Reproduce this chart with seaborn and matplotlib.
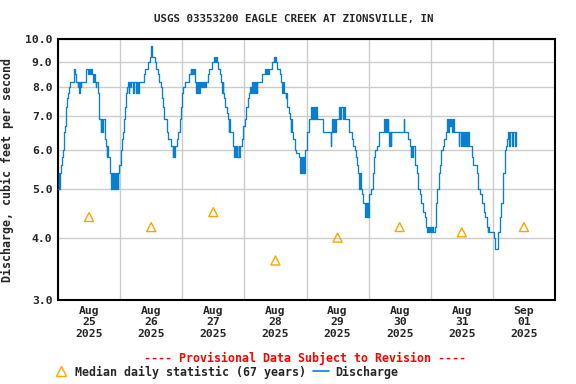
import numpy as np
import pandas as pd
import matplotlib
matplotlib.use("Agg")
import matplotlib.pyplot as plt
import matplotlib.dates as mdates
from matplotlib.lines import Line2D
import seaborn as sns

# ---------------- data ----------------
start = "2025-08-25 00:00"
# discharge: step breakpoints (hours after start, cfs)
q_hours = [0.0, 0.25, 0.5, 0.75, 1.0, 1.5, 2.0, 2.3, 2.7, 3.2, 3.6, 4.0, 4.4, 4.8, 6.0, 6.3, 6.5, 6.8,
           7.6, 7.9, 8.2, 8.4, 8.7, 8.9, 10.8, 11.0, 11.5, 11.8, 12.3, 12.6, 13.0, 13.5, 13.8, 14.2,
           14.6, 14.8, 15.3, 16.0, 16.5, 16.8, 17.1, 17.4, 18.0, 18.5, 18.8, 19.0, 19.3, 19.9, 20.2,
           20.6, 20.9, 21.2, 21.5, 21.8, 22.2, 22.5, 22.8, 23.1, 23.3, 23.7,
           24.2, 24.7, 25.1, 25.5, 25.8, 26.1, 26.4, 26.8, 27.1, 27.3, 27.6, 28.0, 28.3, 29.0, 29.2,
           30.2, 30.4, 31.0, 31.3, 33.2, 33.8, 34.8, 35.4, 35.9, 36.0, 36.1, 36.3, 36.8, 37.4, 38.0,
           38.6, 38.9, 39.7, 40.2, 40.6, 41.0, 42.0, 42.5, 43.6, 44.3, 44.5, 44.8, 45.1, 45.8, 46.3,
           47.0, 47.4, 47.9, 48.4, 49.2,
           50.8, 51.2, 51.5, 51.8, 52.1, 52.5, 52.9, 53.4, 53.7, 54.0, 54.3, 54.6, 55.0, 55.3, 55.6,
           56.0, 56.3, 56.7, 57.0, 57.8, 58.2, 59.6, 60.4, 60.8, 61.1, 61.5, 61.8, 62.4, 63.0, 63.3,
           63.6, 63.9, 64.3, 64.6, 65.3, 65.8, 66.0, 66.2, 66.5, 67.6, 68.1, 68.4, 68.7, 69.0, 69.3,
           69.8, 70.1, 70.5, 71.1, 71.6,
           72.4, 72.8, 73.3, 73.8, 74.2, 74.6, 75.0, 75.3, 75.6, 76.0, 76.4, 76.8, 77.0, 78.8, 80.1,
           80.5, 80.8, 81.2, 81.5, 82.7, 83.4, 83.7, 84.0, 84.3, 84.7, 85.6, 86.3, 86.6, 86.9, 87.2,
           87.9, 88.2, 88.5, 89.2, 89.8, 90.0, 90.2, 90.5, 90.8, 91.4, 91.7, 92.1, 93.0, 93.4, 93.7,
           94.0, 94.3, 94.6, 94.9, 95.2,
           95.6, 96.3, 96.9, 97.9, 98.2, 98.5, 98.8, 99.1, 99.5, 99.8, 100.1, 102.5, 105.4, 105.6,
           106.0, 106.3, 106.7, 107.0, 107.4, 108.7, 109.0, 109.3, 110.2, 110.5, 111.0, 112.5, 113.5,
           114.0, 114.6, 115.2, 115.5, 116.0, 116.4, 116.7, 117.0, 117.4, 117.9, 118.7, 119.0, 119.3,
           119.6, 119.8, 120.0, 120.3, 120.9, 121.5, 122.1, 122.6, 123.1, 124.1,
           126.0, 126.3, 126.6, 127.0, 127.3, 127.6, 127.9, 128.2, 128.5, 128.8, 133.5, 133.7, 135.2,
           135.9, 136.2, 136.5, 136.8, 137.2, 137.8, 138.0, 138.5, 139.1, 139.7, 140.1, 141.0, 141.7,
           142.3, 142.7, 143.0, 143.4, 143.8, 144.2, 144.6, 145.0, 145.5, 146.2, 146.6, 147.2, 147.5,
           148.1, 148.8, 149.3, 150.0, 150.4, 150.7, 151.0, 151.4, 151.7, 152.1, 152.5, 152.9, 154.8,
           155.1, 155.5, 155.9, 156.3, 156.7, 157.1, 157.5, 157.9, 158.3, 158.7, 159.2, 159.9, 160.5,
           161.8, 162.4, 163.0, 163.7, 164.4, 165.0, 165.7, 166.0, 166.3, 166.6, 167.0, 168.4, 168.9,
           169.8, 170.0, 170.6, 171.2, 171.9, 172.1, 172.7, 173.2, 173.6, 174.0, 174.4, 174.7, 175.5,
           175.8, 176.5, 176.8, 177.0]
q_values = [5.0, 5.4, 5.0, 5.4, 5.6, 5.8, 6.0, 6.5, 6.7, 7.3, 7.6, 7.8, 8.0, 8.2, 8.5, 8.7, 8.5, 8.2,
            8.0, 8.2, 7.8, 8.2, 8.0, 8.2, 8.5, 8.7, 8.5, 8.7, 8.5, 8.7, 8.5, 8.2, 8.5, 8.2,
            8.0, 8.2, 7.8, 6.9, 6.5, 6.9, 6.5, 6.9, 6.3, 6.1, 5.8, 6.1, 5.8, 5.6, 5.4,
            5.0, 5.4, 5.0, 5.4, 5.0, 5.4, 5.0, 5.4, 5.0, 5.4, 5.6,
            6.0, 6.3, 6.5, 6.9, 7.3, 7.6, 7.8, 8.0, 8.2, 7.8, 8.2, 8.0, 8.2, 7.8, 8.2,
            7.8, 8.2, 7.8, 8.2, 8.5, 8.7, 9.0, 9.2, 9.7, 9.2, 9.7, 9.2, 9.2, 9.0, 8.7,
            8.5, 8.2, 8.0, 7.6, 7.3, 6.9, 6.5, 6.3, 6.1, 5.8, 6.1, 5.8, 6.1, 6.3, 6.5,
            6.9, 7.3, 7.8, 8.0, 8.2,
            8.5, 8.7, 8.5, 8.7, 8.5, 8.7, 8.2, 7.8, 8.2, 7.8, 8.2, 7.8, 8.2, 8.0, 8.2,
            8.0, 8.2, 8.0, 8.2, 8.5, 8.7, 9.0, 9.2, 9.0, 9.2, 9.0, 8.7, 8.5, 8.2, 7.8,
            8.2, 7.8, 7.6, 7.3, 7.1, 6.9, 6.5, 6.9, 6.5, 6.1, 5.8, 6.1, 5.8, 6.1, 5.8,
            6.1, 5.8, 6.1, 6.3, 6.7,
            6.9, 7.3, 7.6, 7.8, 8.0, 7.8, 8.2, 7.8, 8.2, 7.8, 8.2, 7.8, 8.2, 8.5, 8.7,
            8.5, 8.7, 8.5, 8.7, 9.0, 9.2, 9.0, 9.2, 9.0, 8.7, 8.5, 8.2, 7.8, 8.2, 7.8,
            7.6, 7.8, 7.3, 7.1, 6.9, 6.5, 6.9, 6.5, 6.3, 6.1, 6.0, 5.9, 5.8, 5.4, 5.8,
            5.4, 5.8, 5.4, 5.8, 5.4,
            6.0, 6.5, 6.9, 7.3, 6.9, 7.3, 6.9, 7.3, 6.9, 7.3, 6.9, 6.5, 6.1, 6.5,
            6.9, 6.5, 6.9, 6.5, 6.9, 7.3, 6.9, 7.3, 6.9, 7.3, 6.9, 6.5, 6.3,
            6.1, 6.0, 5.8, 5.6, 5.4, 5.0, 5.4, 5.0, 4.9, 4.7, 4.4, 4.7, 4.4,
            4.7, 4.4, 4.7, 4.9, 5.0, 5.4, 5.8, 6.0, 6.1, 6.5,
            6.9, 6.5, 6.9, 6.5, 6.9, 6.5, 6.1, 6.5, 6.1, 6.5, 6.9, 6.5, 6.3,
            6.1, 5.8, 6.1, 5.8, 6.1, 5.8, 5.6, 5.4, 5.0, 4.9, 4.7, 4.5, 4.4,
            4.2, 4.1, 4.2, 4.1, 4.2, 4.1, 4.2, 4.1, 4.2, 4.7, 5.0, 5.4, 5.6,
            6.0, 6.1, 6.3, 6.5, 6.9, 6.5, 6.9, 6.7, 6.9, 6.5, 6.9, 6.5, 6.1,
            6.5, 6.1, 6.5, 6.1, 6.5, 6.1, 6.5, 6.1, 6.5, 6.1, 6.1, 5.8, 5.6,
            5.4, 5.0, 4.9, 4.7, 4.5, 4.4, 4.2, 4.1, 4.2, 4.1, 4.1, 4.0, 3.8,
            4.0, 4.1, 4.4, 4.7, 4.9, 5.4, 6.0, 6.1, 6.3, 6.5, 6.1, 6.5, 6.1,
            6.5, 6.1, 6.5, 6.5]

median_dates = ["2025-08-25 12:00", "2025-08-26 12:00", "2025-08-27 12:00", "2025-08-28 12:00",
                "2025-08-29 12:00", "2025-08-30 12:00", "2025-08-31 12:00", "2025-09-01 12:00"]
median_values = [4.4, 4.2, 4.5, 3.6, 4.0, 4.2, 4.1, 4.2]
x_tick_labels = ["Aug\n25\n2025", "Aug\n26\n2025", "Aug\n27\n2025", "Aug\n28\n2025",
                 "Aug\n29\n2025", "Aug\n30\n2025", "Aug\n31\n2025", "Sep\n01\n2025"]
y_ticks = [3.0, 4.0, 5.0, 6.0, 7.0, 8.0, 9.0, 10.0]

title = "USGS 03353200 EAGLE CREEK AT ZIONSVILLE, IN"
ylabel = "Discharge, cubic feet per second"
provisional = "---- Provisional Data Subject to Revision ----"
median_label = "Median daily statistic (67 years)"
discharge_label = "Discharge"

# ---------------- plot ----------------
sns.set_theme(style="white")
plt.rcParams['font.family'] = ['DejaVu Sans Mono']
plt.rcParams['font.weight'] = 'bold'

t0 = pd.Timestamp(start)
q_df = pd.DataFrame({"time": t0 + pd.to_timedelta(q_hours, unit="h"), "q": q_values})
m_df = pd.DataFrame({"time": pd.to_datetime(median_dates), "q": median_values})

fig = plt.figure(figsize=(5.76, 3.84), dpi=100)
ax = fig.add_axes([58/576, 1-300/384, (555-58)/576, (300-39)/384])

blue = "#0a7fcf"
orange = "#ffa500"
sns.lineplot(data=q_df, x="time", y="q", ax=ax, color=blue, lw=0.95,
             drawstyle="steps-post", estimator=None, zorder=3)
ax.scatter(m_df["time"], m_df["q"], marker="^", s=42, facecolors="none",
           edgecolors=orange, linewidths=1.0, zorder=4)

ax.set_yscale("log")
ax.set_ylim(3.0, 10.0)
ax.yaxis.set_major_locator(matplotlib.ticker.FixedLocator(y_ticks))
ax.yaxis.set_minor_locator(matplotlib.ticker.NullLocator())
ax.set_yticklabels([f"{v:.1f}" for v in y_ticks])

ax.set_xlim(t0, t0 + pd.Timedelta(days=8))
ax.set_xticks(pd.to_datetime(median_dates))
ax.set_xticklabels(x_tick_labels, linespacing=1.2)
ax.set_xticks(pd.date_range(t0, periods=9, freq="D"), minor=True)

ax.grid(False)
ax.grid(axis="y", which="major", color="#cccccc", lw=1.0)
ax.grid(axis="x", which="minor", color="#cccccc", lw=1.0)
ax.set_axisbelow(True)
ax.tick_params(axis="both", which="both", length=0, labelsize=8.2, pad=4)
for lab in ax.get_xticklabels() + ax.get_yticklabels():
    lab.set_fontweight("bold")
for s in ax.spines.values():
    s.set_color("black")
    s.set_linewidth(1.5)
ax.set_xlabel("")
ax.set_ylabel(ylabel, fontsize=8.4, fontweight="bold", labelpad=8)

fig.text(0.51, 1-19/384, title, ha="center", va="center", fontsize=7.8, fontweight="bold")
fig.text(305/576, 1-358/384, provisional, ha="center", va="center", fontsize=8.4,
         fontweight="bold", color="red")

handles = [Line2D([], [], marker="^", ls="none", markerfacecolor="none", markeredgecolor=orange,
                  markersize=7, markeredgewidth=1.0),
           Line2D([], [], color=blue, lw=1.2)]
fig.legend(handles, [median_label, discharge_label], ncol=2, frameon=False,
           loc="center left", bbox_to_anchor=(48/576, 1-372/384),
           handlelength=1.4, handletextpad=0.5, columnspacing=0.6, borderaxespad=0,
           prop={"weight": "bold", "size": 8.4})

fig.savefig("out.png", dpi=100)
